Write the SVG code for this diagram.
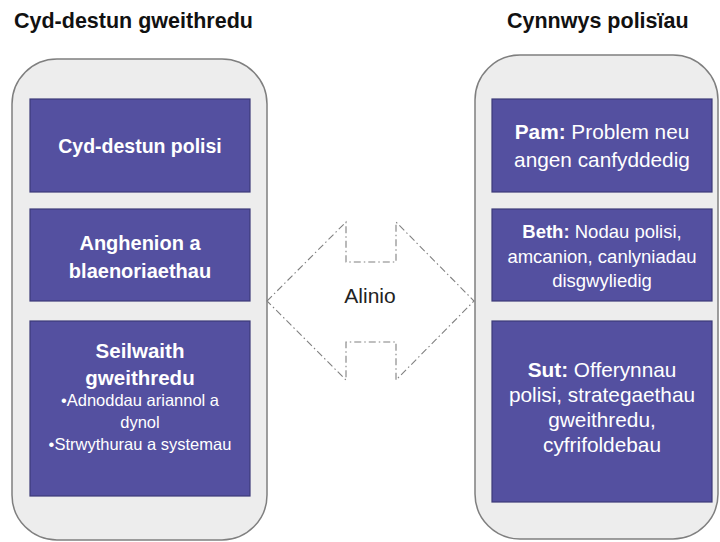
<svg xmlns="http://www.w3.org/2000/svg" width="720" height="542" viewBox="0 0 720 542">
  <style>
    .title { font-family: "Liberation Sans", Arial, sans-serif; font-weight: bold; font-size: 21.5px; fill: #111111; }
    .panel { fill: #EDEDED; stroke: #7F7F7F; stroke-width: 1.5; }
    .box { fill: #5450A0; stroke: #3C3A78; stroke-width: 1.2; }
    .t { font-family: "Liberation Sans", Arial, sans-serif; fill: #FFFFFF; text-anchor: middle; }
    .b { font-weight: bold; }
    .arrow { fill: #FFFFFF; stroke: #808080; stroke-width: 1.1; stroke-dasharray: 7 3 1.5 3; }
  </style>

  <!-- column headings -->
  <text class="title" x="14" y="28">Cyd-destun gweithredu</text>
  <text class="title" x="507" y="28">Cynnwys polisïau</text>

  <!-- left column: operating context -->
  <g id="panel-left">
    <rect class="panel" x="12" y="59" width="255" height="481" rx="45" ry="45"/>
  </g>
  <g id="node-cyd-destun-polisi">
    <rect class="box" x="30" y="99" width="220" height="93"/>
    <text class="t b" x="140" y="153" font-size="19.5">Cyd-destun polisi</text>
  </g>
  <g id="node-anghenion">
    <rect class="box" x="30" y="209" width="220" height="92"/>
    <text class="t b" x="140" y="250" font-size="20">Anghenion a</text>
    <text class="t b" x="140" y="278" font-size="20">blaenoriaethau</text>
  </g>
  <g id="node-seilwaith">
    <rect class="box" x="30" y="321" width="220" height="175"/>
    <text class="t b" x="140" y="358" font-size="20.5">Seilwaith</text>
    <text class="t b" x="140" y="385" font-size="20.5">gweithredu</text>
    <text class="t" x="140" y="406" font-size="16.5">•Adnoddau ariannol a</text>
    <text class="t" x="140" y="428" font-size="16.5">dynol</text>
    <text class="t" x="140" y="450" font-size="16.5">•Strwythurau a systemau</text>
  </g>

  <!-- right column: policy content -->
  <g id="panel-right">
    <rect class="panel" x="475" y="55" width="243" height="484" rx="45" ry="45"/>
  </g>
  <g id="node-pam">
    <rect class="box" x="492" y="99" width="220" height="93"/>
    <text class="t" x="602" y="139" font-size="20.8"><tspan class="b">Pam:</tspan> Problem neu</text>
    <text class="t" x="602" y="167" font-size="20.8">angen canfyddedig</text>
  </g>
  <g id="node-beth">
    <rect class="box" x="492" y="209" width="220" height="92"/>
    <text class="t" x="602" y="238" font-size="18.5"><tspan class="b">Beth:</tspan> Nodau polisi,</text>
    <text class="t" x="602" y="263" font-size="18.5">amcanion, canlyniadau</text>
    <text class="t" x="602" y="287" font-size="18.5">disgwyliedig</text>
  </g>
  <g id="node-sut">
    <rect class="box" x="492" y="321" width="220" height="181"/>
    <text class="t" x="602" y="377" font-size="20.8"><tspan class="b">Sut:</tspan> Offerynnau</text>
    <text class="t" x="602" y="402" font-size="20.8">polisi, strategaethau</text>
    <text class="t" x="602" y="427" font-size="20.8">gweithredu,</text>
    <text class="t" x="602" y="452" font-size="20.8">cyfrifoldebau</text>
  </g>

  <!-- two-way alignment arrow between the columns -->
  <g id="connectors">
    <path class="arrow" d="M267,301 L346,222 L346,262 L396,262 L396,222 L474,301 L396,380 L396,342 L346,342 L346,380 Z"/>
    <text x="370" y="303" font-family="'Liberation Sans', Arial, sans-serif" font-size="21" fill="#222222" text-anchor="middle">Alinio</text>
  </g>
</svg>
